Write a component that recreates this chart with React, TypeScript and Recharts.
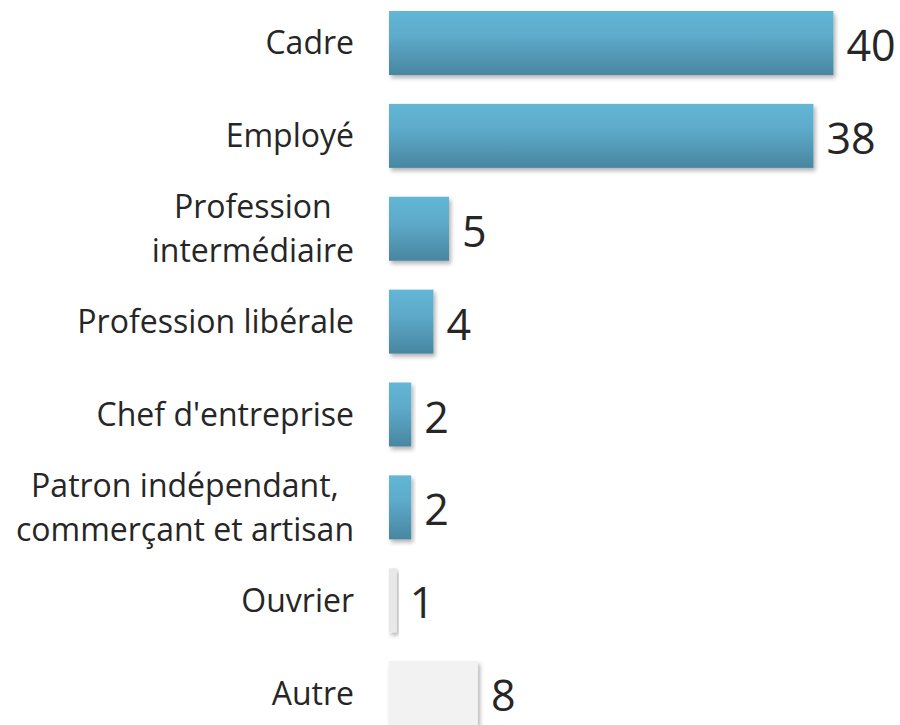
import React from 'react';
import { BarChart, Bar, XAxis, YAxis, Cell, LabelList } from 'recharts';

const categories = [
  'Cadre',
  'Employé',
  'Profession\nintermédiaire',
  'Profession libérale',
  "Chef d'entreprise",
  'Patron indépendant,\ncommerçant et artisan',
  'Ouvrier',
  'Autre',
];
const values = [40, 38.2, 5.4, 4, 2, 2, 0.7, 8];
const valueLabels = ['40', '38', '5', '4', '2', '2', '1', '8'];
const barColors = [
  'url(#blueGrad)', 'url(#blueGrad)', 'url(#blueGrad)', 'url(#blueGrad)',
  'url(#blueGrad)', 'url(#blueGrad)', '#E8E8E8', '#F2F2F2',
];

const data = categories.map((c, i) => ({ name: c, value: values[i], label: valueLabels[i] }));

const FONT = "'Open Sans', sans-serif";
const TEXT_COLOR = '#262626';
let ctx: CanvasRenderingContext2D | null = null;
function measure(t: string, size: number): number {
  if (!ctx) ctx = document.createElement('canvas').getContext('2d');
  if (!ctx) return t.length * size * 0.55;
  ctx.font = `${size}px 'Open Sans'`;
  return ctx.measureText(t).width;
}

const CAT_SIZE = 32;
const CatTick = (props: any) => {
  const { x, y, payload } = props;
  const lines = String(payload.value).split('\n');
  const lh = 44;
  const y0 = y - ((lines.length - 1) * lh) / 2 + 11;
  if (lines.length === 1) {
    return (
      <text x={x} y={y0} textAnchor="end" fontFamily={FONT} fontSize={CAT_SIZE} fill={TEXT_COLOR}>
        {lines[0]}
      </text>
    );
  }
  const maxW = Math.max(...lines.map((l) => measure(l, CAT_SIZE)));
  const cx = x - maxW / 2;
  return (
    <g>
      {lines.map((l, i) => (
        <text key={i} x={cx} y={y0 + i * lh} textAnchor="middle" fontFamily={FONT} fontSize={CAT_SIZE} fill={TEXT_COLOR}>
          {l}
        </text>
      ))}
    </g>
  );
};

const ValueLabel = (props: any) => {
  const { x, y, width, height, value } = props;
  return (
    <text x={x + width + 13} y={y + height / 2 + 18} fontFamily={FONT} fontSize={43} fill={TEXT_COLOR}>
      {value}
    </text>
  );
};

const BarShape = (props: any) => {
  const { x, y, width, height, fill } = props;
  return <rect x={x} y={y} width={Math.max(width, 0)} height={height} fill={fill} filter="url(#shadow)" />;
};

export default function App() {
  return (
    <div style={{ position: 'absolute', left: 0, top: -3 }}>
      <BarChart
        width={900}
        height={743}
        data={data}
        layout="vertical"
        margin={{ top: 0, right: 11, bottom: 0, left: 0 }}
        barCategoryGap={0}
      >
        <defs>
          <linearGradient id="blueGrad" x1="0" y1="0" x2="0" y2="1">
            <stop offset="0%" stopColor="#63B6D6" />
            <stop offset="40%" stopColor="#5DAACA" />
            <stop offset="100%" stopColor="#4886A0" />
          </linearGradient>
          <filter id="shadow" x="-10%" y="-20%" width="130%" height="160%">
            <feDropShadow dx="2" dy="3" stdDeviation="2" floodColor="#000" floodOpacity="0.3" />
          </filter>
        </defs>
        <XAxis type="number" domain={[0, 45]} hide />
        <YAxis
          type="category"
          dataKey="name"
          width={389}
          tickLine={false}
          axisLine={false}
          tickSize={0}
          tickMargin={35}
          interval={0}
          tick={<CatTick />}
        />
        <Bar dataKey="value" barSize={64} isAnimationActive={false} shape={<BarShape />}>
          {data.map((d, i) => (
            <Cell key={d.name} fill={barColors[i]} />
          ))}
          <LabelList dataKey="label" content={<ValueLabel />} />
        </Bar>
      </BarChart>
    </div>
  );
}
